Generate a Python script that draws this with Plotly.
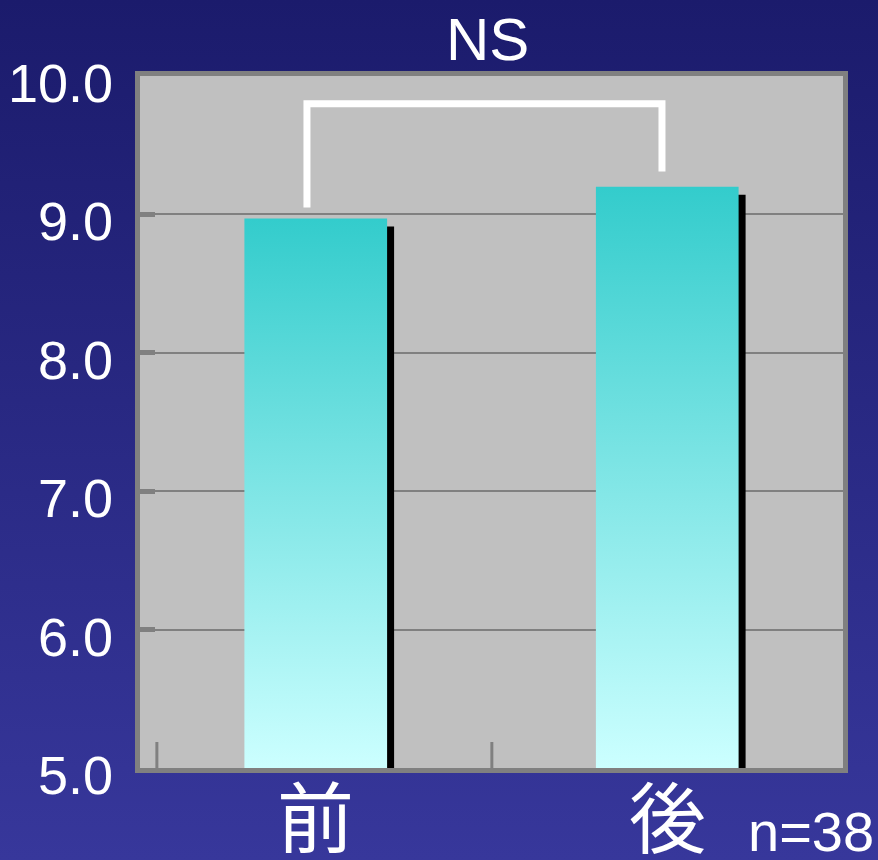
import base64
import plotly.graph_objects as go

# ---- data ----
categories = ["前", "後"]
positions = [0, 1]
values = [8.97, 9.20]
y_ticks = [5.0, 6.0, 7.0, 8.0, 9.0, 10.0]
y_tick_labels = ["5.0", "6.0", "7.0", "8.0", "9.0", "10.0"]
sig_label = "NS"
n_label = "n=38"
bracket_bottoms = [9.05, 9.31]
bracket_top = 9.80

# ---- layout geometry ----
W, H = 878, 860
ML, MR, MT, MB = 140, 35, 76, 92
PW, PH = W - ML - MR, H - MT - MB
Y0, Y1 = 5.0, 10.0
px_per_y = PH / (Y1 - Y0)
px_per_x = PW / 2.0

half_w = 0.203
shadow_dx = 7 / px_per_x
shadow_dy = 8 / px_per_y

FONT = "Liberation Sans, Arial, sans-serif"
CJK = "Noto Sans CJK JP, sans-serif"
GRAY = "#808080"

fig = go.Figure()

# shadows
for c, v in zip(positions, values):
    x0, x1 = c - half_w + shadow_dx, c + half_w + shadow_dx
    fig.add_trace(go.Scatter(
        x=[x0, x1, x1, x0, x0], y=[Y0, Y0, v - shadow_dy, v - shadow_dy, Y0],
        fill="toself", fillcolor="black", mode="lines", line=dict(width=0),
        hoverinfo="skip", showlegend=False))

# gradient bars
for c, v in zip(positions, values):
    x0, x1 = c - half_w, c + half_w
    fig.add_trace(go.Scatter(
        x=[x0, x1, x1, x0, x0], y=[Y0, Y0, v, v, Y0],
        fill="toself", mode="lines", line=dict(width=0),
        fillgradient=dict(type="vertical",
                          colorscale=[[0, "#ccffff"], [1, "#33cccc"]]),
        hoverinfo="skip", showlegend=False))

# significance bracket
xl, xr = positions[0] - 0.025, positions[1] - 0.015
fig.add_trace(go.Scatter(
    x=[xl, xl, xr, xr], y=[bracket_bottoms[0], bracket_top, bracket_top, bracket_bottoms[1]],
    mode="lines", line=dict(color="white", width=7), hoverinfo="skip", showlegend=False))

# small x-axis tick marks (inside, at bottom)
for xt in [-0.452, 0.501]:
    fig.add_shape(type="line", xref="x", yref="y", x0=xt, x1=xt, y0=Y0, y1=Y0 + 26 / px_per_y,
                  line=dict(color=GRAY, width=3), layer="above")

# background gradient + gray plot panel via svg image
svg = (f'<svg xmlns="http://www.w3.org/2000/svg" width="{W}" height="{H}" viewBox="0 0 {W} {H}" preserveAspectRatio="none">'
       '<defs><linearGradient id="g" x1="0" y1="0" x2="0" y2="1">'
       '<stop offset="0" stop-color="#1b1b6c"/><stop offset="1" stop-color="#37379b"/>'
       '</linearGradient></defs>'
       f'<rect width="{W}" height="{H}" fill="url(#g)"/>'
       f'<rect x="{ML}" y="{MT}" width="{PW}" height="{PH}" fill="#c0c0c0"/></svg>')
src = "data:image/svg+xml;base64," + base64.b64encode(svg.encode()).decode()
fig.add_layout_image(dict(source=src, xref="paper", yref="paper",
                          x=-ML / PW, y=1 + MT / PH, sizex=W / PW, sizey=H / PH,
                          xanchor="left", yanchor="top", sizing="stretch", layer="below"))

# y tick labels (shifted slightly below their gridlines, as in the reference)
for t, lab in zip(y_ticks, y_tick_labels):
    fig.add_annotation(text=lab, xref="paper", yref="y", x=(115 - ML) / PW, y=t,
                       xanchor="right", yanchor="middle", yshift=-7, showarrow=False,
                       font=dict(family=FONT, size=54, color="white"))

# category labels
for c, lab in zip(positions, categories):
    fig.add_annotation(text=lab, xref="x", yref="paper", x=c, y=-(813 - MT - PH) / PH,
                       xanchor="center", yanchor="middle", showarrow=False,
                       font=dict(family=CJK, size=77, color="white"))

fig.add_annotation(text=sig_label, xref="paper", yref="paper",
                   x=(487 - ML) / PW, y=1 + (MT - 39) / PH, xanchor="center", yanchor="middle",
                   showarrow=False, font=dict(family=FONT, size=60, color="white"))
fig.add_annotation(text=n_label, xref="paper", yref="paper",
                   x=(W - 2 - ML) / PW, y=-(831 - MT - PH) / PH, xanchor="right", yanchor="middle",
                   showarrow=False, font=dict(family=FONT, size=56, color="white"))

fig.update_layout(
    width=W, height=H,
    margin=dict(l=ML, r=MR, t=MT, b=MB, pad=0, autoexpand=False),
    paper_bgcolor="#1b1b6c",
    plot_bgcolor="rgba(0,0,0,0)",
    showlegend=False,
    xaxis=dict(range=[-0.5, 1.5], tickvals=positions, showticklabels=False, automargin=False,
               showgrid=False, zeroline=False, showline=True, linecolor=GRAY, linewidth=5,
               mirror=True, ticks="", fixedrange=True),
    yaxis=dict(range=[Y0, Y1], tickvals=y_ticks, showticklabels=False, automargin=False,
               showgrid=True, gridcolor=GRAY, gridwidth=1.5, zeroline=False,
               showline=True, linecolor=GRAY, linewidth=5, mirror=True,
               ticks="inside", ticklen=15, tickwidth=5, tickcolor=GRAY, fixedrange=True),
)

fig.write_html("out.html")
